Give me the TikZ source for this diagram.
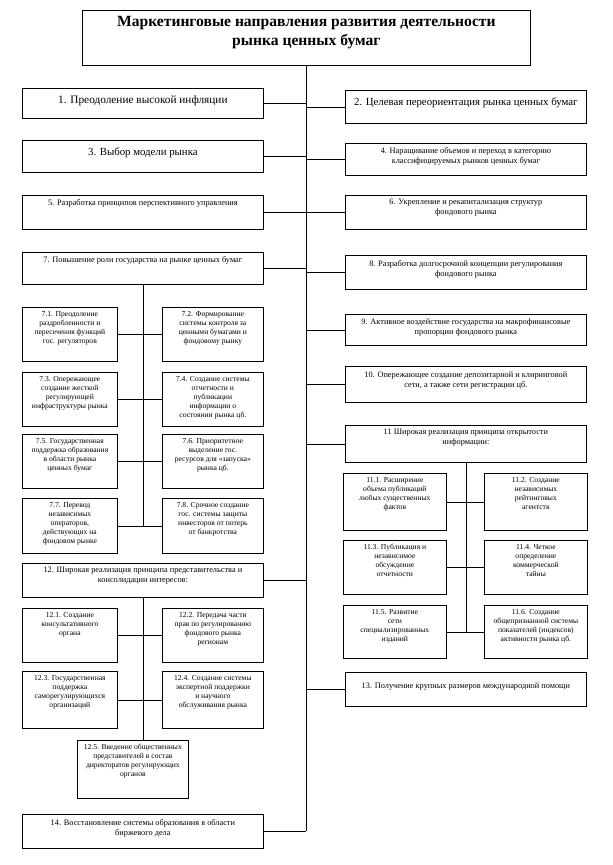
\documentclass[tikz,border=0pt]{standalone}
\usepackage{fontspec}
\setmainfont{Liberation Serif}
\tikzset{
  boxst/.style={draw, line width=0.75pt, inner sep=0pt, anchor=north west},
  conn/.style={draw, line width=0.75pt},
}
\newcommand\fbig{\fontsize{10.8}{12.5}\selectfont}
\newcommand\fmid{\fontsize{8.3}{10}\selectfont}
\newcommand\fsm{\fontsize{7.6}{9}\selectfont}
\newcommand\bxx[8]{%
 \pgfmathsetmacro\bw{#4-#2}\pgfmathsetmacro\bh{#5-#3}%
 \node[boxst] (#1) at (#2,#3) {\parbox[c][\bh pt][t]{\bw pt}{\centering\vspace*{#6pt}#7#8\par}};}
\begin{document}
\begin{tikzpicture}[x=1pt,y=-1pt]
\useasboundingbox (0,0) rectangle (613,865);
\bxx{title}{82}{10}{530}{65}{6}{\fontsize{15.6}{19}\selectfont\bfseries}{Маркетинговые направления развития деятельности\\ рынка ценных бумаг}
\bxx{n1}{22}{88}{263}{118}{7}{\fontsize{11.3}{13}\selectfont}{1. Преодоление высокой инфляции}
\bxx{n2}{345}{90}{586}{123}{7}{\fbig}{2. Целевая переориентация рынка ценных бумаг}
\bxx{n3}{22}{140}{263}{172}{7}{\fbig}{3. Выбор модели рынка}
\bxx{n4}{345}{143}{586}{175}{4}{\fmid}{4. Наращивание объемов и переход в категорию\\ классифицируемых рынков ценных бумаг}
\bxx{n5}{22}{195}{263}{229}{4}{\fmid}{5. Разработка принципов перспективного управления}
\bxx{n6}{345}{195}{586}{229}{4}{\fmid}{6. Укрепление и рекапитализация структур\\ фондового рынка}
\bxx{n7}{22}{252}{263}{284}{4}{\fmid}{7. Повышение роли государства на рынке ценных бумаг}
\bxx{n8}{345}{255}{586}{289}{5}{\fmid}{8. Разработка долгосрочной концепции регулирования\\ фондового рынка}
\bxx{n9}{345}{314}{586}{345}{4}{\fmid}{9. Активное воздействие государства на макрофинансовые\\ пропорции фондового рынка}
\bxx{n10}{345}{366}{586}{402}{5}{\fmid}{10. Опережающее создание депозитарной и клиринговой\\ сети, а также сети регистрации цб.}
\bxx{n11}{345}{425}{586}{462}{4}{\fmid}{11 Широкая реализация принципа открытости\\ информации:}
\bxx{n12}{22}{563}{263}{597}{4}{\fmid}{12. Широкая реализация принципа представительства и\\ консолидации интересов:}
\bxx{n13}{345}{672}{586}{706}{10}{\fmid}{13. Получение крупных размеров международной помощи}
\bxx{n14}{22}{814}{263}{848}{5}{\fmid}{14. Восстановление системы образования в области\\ биржевого дела}
% 7.x
\bxx{s71}{22}{307}{117}{361}{4}{\fsm}{7.1. Преодоление\\ раздробленности и\\ пересечения функций\\ гос. регуляторов}
\bxx{s72}{162}{307}{263}{361}{4}{\fsm}{7.2. Формирование\\ системы контроля за\\ ценными бумагами и\\ фондовому рынку}
\bxx{s73}{22}{372}{117}{426}{4}{\fsm}{7.3. Опережающее\\ создание жесткой\\ регулирующей\\ инфраструктуры рынка}
\bxx{s74}{162}{372}{263}{426}{4}{\fsm}{7.4. Создание системы\\ отчетности и\\ публикации\\ информации о\\ состоянии рынка цб.}
\bxx{s75}{22}{434}{117}{488}{4}{\fsm}{7.5. Государственная\\ поддержка образования\\ в области рынка\\ ценных бумаг}
\bxx{s76}{162}{434}{263}{488}{4}{\fsm}{7.6. Приоритетное\\ выделение гос.\\ ресурсов для «запуска»\\ рынка цб.}
\bxx{s77}{22}{498}{117}{553}{4}{\fsm}{7.7. Перевод\\ независимых\\ операторов,\\ действующих на\\ фондовом рынке}
\bxx{s78}{162}{498}{263}{553}{4}{\fsm}{7.8. Срочное создание\\ гос. системы защиты\\ инвесторов от потерь\\ от банкротства}
% 11.x
\bxx{s111}{343}{473}{446}{530}{4}{\fsm}{11.1. Расширение\\ объема публикаций\\ любых существенных\\ фактов}
\bxx{s112}{484}{473}{587}{530}{4}{\fsm}{11.2. Создание\\ независимых\\ рейтинговых\\ агентств}
\bxx{s113}{343}{540}{446}{594}{4}{\fsm}{11.3. Публикация и\\ независимое\\ обсуждение\\ отчетности}
\bxx{s114}{484}{540}{587}{594}{4}{\fsm}{11.4. Четкое\\ определение\\ коммерческой\\ тайны}
\bxx{s115}{343}{605}{446}{658}{4}{\fsm}{11.5. Развитие\\ сети\\ специализированных\\ изданий}
\bxx{s116}{484}{605}{587}{658}{4}{\fsm}{11.6. Создание\\ общепризнанной системы\\ показателей (индексов)\\ активности рынка цб.}
% 12.x
\bxx{s121}{22}{608}{117}{662}{4}{\fsm}{12.1. Создание\\ консультативного\\ органа}
\bxx{s122}{162}{608}{263}{662}{4}{\fsm}{12.2. Передача части\\ прав по регулированию\\ фондового рынка\\ регионам}
\bxx{s123}{22}{671}{117}{728}{4}{\fsm}{12.3. Государственная\\ поддержка\\ саморегулирующихся\\ организаций}
\bxx{s124}{162}{671}{263}{728}{4}{\fsm}{12.4. Создание системы\\ экспертной поддержки\\ и научного\\ обслуживания рынка}
\bxx{s125}{77}{740}{188}{798}{4}{\fsm}{12.5. Введение общественных\\ представителей в состав\\ директоратов регулирующих\\ органов}
% trunk
\draw[conn] (title.south) -- (title.south |- n14.east);
\foreach \n in {n1,n3,n5,n7,n12,n14}{\draw[conn] (\n.east) -- (\n.east -| title.south);}
\foreach \n in {n2,n4,n6,n8,n9,n10,n11,n13}{\draw[conn] (\n.west) -- (\n.west -| title.south);}
% 7 branch
\draw[conn] (n7.south) -- (n7.south |- s77.east);
\draw[conn] (s71.east) -- (s72.west);
\draw[conn] (s73.east) -- (s74.west);
\draw[conn] (s75.east) -- (s76.west);
\draw[conn] (s77.east) -- (s78.west);
% 11 branch
\draw[conn] (n11.south) -- (n11.south |- s115.east);
\draw[conn] (s111.east) -- (s112.west);
\draw[conn] (s113.east) -- (s114.west);
\draw[conn] (s115.east) -- (s116.west);
% 12 branch
\draw[conn] (n12.south) -- (n12.south |- s125.north);
\draw[conn] (s121.east) -- (s122.west);
\draw[conn] (s123.east) -- (s124.west);
\end{tikzpicture}
\end{document}
